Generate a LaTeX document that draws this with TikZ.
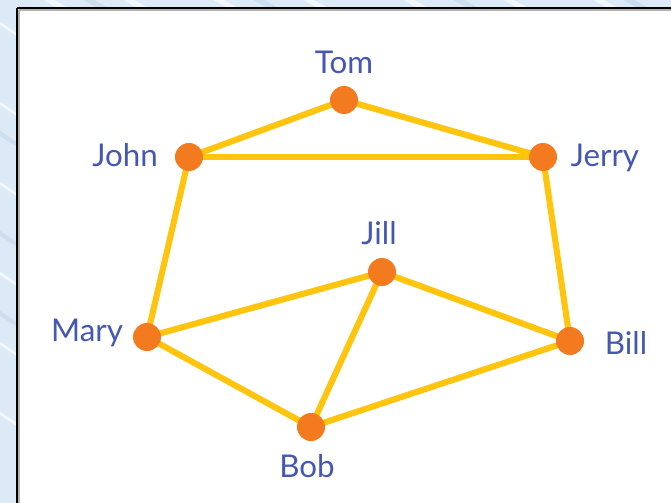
\documentclass[tikz,border=0pt]{standalone}
\usepackage{fontspec}
\setmainfont{Lato}
\definecolor{bgblue}{HTML}{DCE9F6}
\definecolor{streak}{HTML}{C6DCEF}
\definecolor{edgey}{HTML}{FFC50E}
\definecolor{nodeo}{HTML}{F47A20}
\definecolor{labelb}{HTML}{4457B3}
\tikzset{
  vtx/.style={circle,fill=nodeo,inner sep=0pt,minimum size=21pt},
  lbl/.style={text=labelb,font=\fontsize{23.5}{25}\selectfont,inner sep=0pt},
  edg/.style={draw=edgey,line width=4.6pt,line cap=round}
}
\begin{document}
\begin{tikzpicture}[x=0.75pt,y=-0.75pt]
\useasboundingbox (0,0) rectangle (671,503);
\fill[bgblue] (0,0) rectangle (671,503);
% background streaks
\foreach \yy in {40,120,200,290,360,430,520} {
  \draw[white,opacity=0.7,line width=2pt] (-20,\yy-30) -- (40,\yy+10);
}
\foreach \yy in {150,250,330} {
  \draw[streak,opacity=0.8,line width=3pt] (-20,\yy-30) -- (40,\yy+10);
}
\foreach \xx in {60,140,230,320,420,520,610,690} {
  \draw[white,opacity=0.6,line width=4pt] (\xx-20,-5) -- (\xx+10,12);
}
\foreach \xx in {100,270,470,640} {
  \draw[streak,opacity=0.8,line width=4pt] (\xx-20,-5) -- (\xx+10,12);
}
% panel
\fill[white] (17,8) rectangle (680,510);
\draw[gray!60,line width=1.2pt] (19,10) -- (680,10);
\draw[gray!60,line width=1.2pt] (19,10) -- (19,510);
\draw[black,line width=1.6pt] (17,8) -- (680,8);
\draw[black,line width=1.6pt] (17,8) -- (17,510);

% vertices
\coordinate (tom) at (344,100);
\coordinate (john) at (189,157);
\coordinate (jerry) at (543,157);
\coordinate (jill) at (382,272);
\coordinate (mary) at (147,337);
\coordinate (bill) at (570,341);
\coordinate (bob) at (311,427);

\draw[edg] (tom) -- (john);
\draw[edg] (tom) -- (jerry);
\draw[edg] (john) -- (jerry);
\draw[edg] (john) -- (mary);
\draw[edg] (jerry) -- (bill);
\draw[edg] (mary) -- (jill);
\draw[edg] (jill) -- (bill);
\draw[edg] (jill) -- (bob);
\draw[edg] (mary) -- (bob);
\draw[edg] (bob) -- (bill);

\node[vtx] (ntom) at (tom) {};
\node[vtx] (njohn) at (john) {};
\node[vtx] (njerry) at (jerry) {};
\node[vtx] (njill) at (jill) {};
\node[vtx] (nmary) at (mary) {};
\node[vtx] (nbill) at (bill) {};
\node[vtx] (nbob) at (bob) {};

\node[lbl] (ltom) at (344,62) {Tom};
\node[lbl] (ljohn) at (125,155) {John};
\node[lbl] (ljerry) at (605,158) {Jerry};
\node[lbl] (ljill) at (379,233) {Jill};
\node[lbl] (lmary) at (87,333) {Mary};
\node[lbl] (lbill) at (626,343) {Bill};
\node[lbl] (lbob) at (307,466) {Bob};
\end{tikzpicture}
\end{document}
